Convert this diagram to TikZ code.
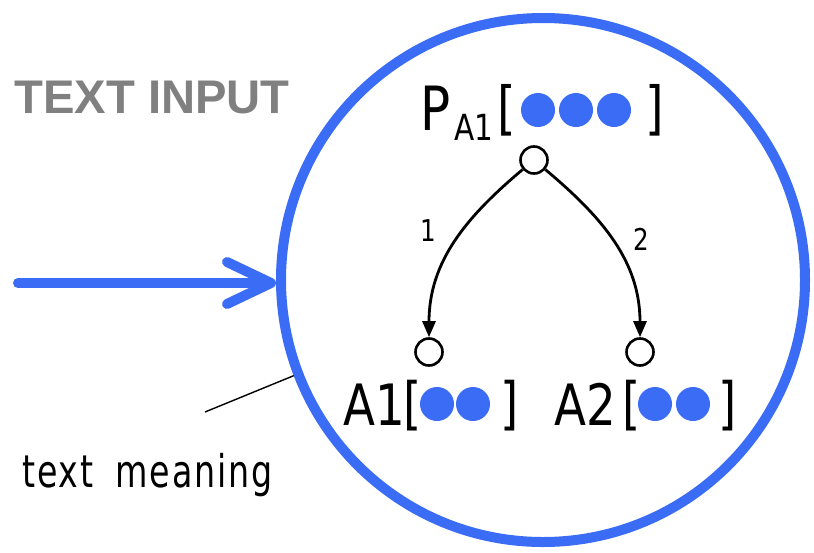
\documentclass[tikz,border=0pt]{standalone}
\usepackage{fontspec}
\usetikzlibrary{arrows.meta}
\setmainfont{Liberation Sans}
\newfontfamily\isofont[FakeStretch=0.82]{DejaVu Sans}
\newfontfamily\isowide[FakeStretch=0.74,LetterSpace=4]{DejaVu Sans}
\definecolor{bluemark}{HTML}{3B6CF6}
\definecolor{greytext}{HTML}{808080}
\tikzset{
  lbl/.style={inner sep=0pt, anchor=base west, font=\isofont\fontsize{#1}{#1}\selectfont},
  dot/.style={circle, fill=bluemark, inner sep=0pt, minimum size=17pt},
  state/.style={circle, draw, line width=1.3pt, inner sep=0pt, minimum size=13.5pt, fill=white},
  branch/.style={line width=1.4pt, -{Triangle[length=8pt,width=6.5pt]}},
}
\begin{document}
\begin{tikzpicture}[x=0.5pt,y=-0.5pt]
\useasboundingbox (0,0) rectangle (814,552);

% outer boundary of the meaning
\node[circle, draw=bluemark, line width=5pt, inner sep=0pt, minimum size=262pt] (meaning) at (543,280) {};

% incoming text
\coordinate (in) at (18,283);
\draw[bluemark, line width=5pt, line cap=round,
      -{Straight Barb[length=22pt,width=21pt,round]}] (in) -- (in -| meaning.west);
\node[anchor=base west, inner sep=0pt, text=greytext,
      font=\fontsize{23.6}{26}\selectfont\bfseries] (title) at (14,113) {TEXT INPUT};

% leader and caption
\coordinate (lead) at (205,412);
\draw[line width=0.7pt] (lead) -- (meaning.201);
\node[inner sep=0pt, anchor=base west, font=\isowide\fontsize{22.5}{22.5}\selectfont] (cap) at (22,487) {text\hspace{11pt}meaning};

% parent label P_A1[ ... ]
\node[lbl=30.5] (p) at (420,130) {P};
\node[lbl=18] (psub) at (454,140) {A1};
\node[lbl=29] (pl) at (497,128) {[};
\node[lbl=29] (pr) at (645,128) {]};
\node[dot] (d1) at (538,110) {};
\node[dot] (d2) at (576,110) {};
\node[dot] (d3) at (614,110) {};

% tree
\node[state] (root) at (534,160) {};
\node[state] (c1) at (429,352) {};
\node[state] (c2) at (640,352) {};
\draw[branch] (root) to[out=-140,in=90] (c1);
\draw[branch] (root) to[out=-40,in=90] (c2);
\node[font=\isofont\fontsize{15}{15}\selectfont, inner sep=0pt] (n1) at (428,231) {1};
\node[font=\isofont\fontsize{15}{15}\selectfont, inner sep=0pt] (n2) at (641,239) {2};

% child labels
\node[lbl=28.5] (a1) at (343,425) {A1};
\node[lbl=28.5] (a1l) at (403,423) {[};
\node[lbl=28.5] (a1r) at (500,423) {]};
\node[dot] (e1) at (437,404) {};
\node[dot] (e2) at (473,404) {};

\node[lbl=28.5] (a2) at (554,425) {A2};
\node[lbl=28.5] (a2l) at (622,423) {[};
\node[lbl=28.5] (a2r) at (718,423) {]};
\node[dot] (f1) at (655,404) {};
\node[dot] (f2) at (693,404) {};
\end{tikzpicture}
\end{document}
